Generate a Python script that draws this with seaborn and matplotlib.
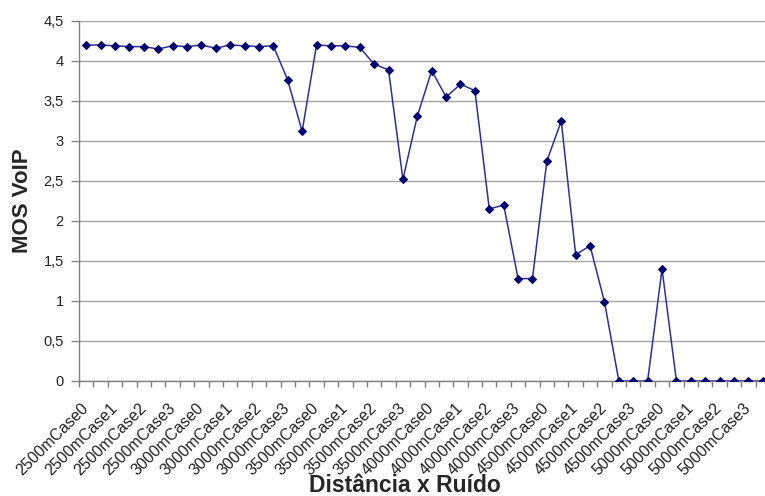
import matplotlib
matplotlib.use("Agg")
import matplotlib.pyplot as plt
import seaborn as sns
import pandas as pd
import numpy as np

tick_labels = ["2500mCase0", "2500mCase1", "2500mCase2", "2500mCase3",
               "3000mCase0", "3000mCase1", "3000mCase2", "3000mCase3",
               "3500mCase0", "3500mCase1", "3500mCase2", "3500mCase3",
               "4000mCase0", "4000mCase1", "4000mCase2", "4000mCase3",
               "4500mCase0", "4500mCase1", "4500mCase2", "4500mCase3",
               "5000mCase0", "5000mCase1", "5000mCase2", "5000mCase3"]

mos = [4.20, 4.20, 4.19, 4.18, 4.18, 4.15, 4.19, 4.18, 4.20, 4.16, 4.20, 4.19,
       4.18, 4.19, 3.76, 3.12, 4.20, 4.19, 4.19, 4.17, 3.96, 3.89, 2.52, 3.31,
       3.88, 3.55, 3.71, 3.63, 2.15, 2.20, 1.28, 1.28, 2.75, 3.25, 1.58, 1.69,
       0.99, 0.0, 0.0, 0.0, 1.40, 0.0, 0.0, 0.0, 0.0, 0.0, 0.0, 0.0]

y_ticks = [0, 0.5, 1, 1.5, 2, 2.5, 3, 3.5, 4, 4.5]
y_tick_labels = ["0", "0,5", "1", "1,5", "2", "2,5", "3", "3,5", "4", "4,5"]

sns.set_theme(style="white")
plt.rcParams["font.family"] = ["Liberation Sans", "DejaVu Sans"]

df = pd.DataFrame({"idx": np.arange(len(mos)), "mos": mos})

W, H = 765, 496
fig = plt.figure(figsize=(W / 100, H / 100), dpi=100)
ax = fig.add_axes([79 / W, 1 - 381 / H, 691 / W, 360 / H])

sns.lineplot(data=df, x="idx", y="mos", ax=ax, color="#2f2f96", linewidth=1.1,
             marker="D", markersize=4, markerfacecolor="#000070",
             markeredgecolor="#000070", zorder=3)

ax.set_xlim(-0.5, len(mos) - 0.5)
ax.set_ylim(0, 4.5)
ax.set_yticks(y_ticks)
ax.set_yticklabels(y_tick_labels, fontsize=10.5, color="#222222")
ax.yaxis.grid(True, color="#a6a6a6", linewidth=1)
ax.set_axisbelow(True)

major = np.arange(0, len(mos), 2)
ax.set_xticks(major)
ax.set_xticklabels(tick_labels, rotation=45, ha="right", va="center",
                   rotation_mode="anchor", fontsize=11.5, color="#222222")
ax.set_xticks(np.arange(-0.5, len(mos), 1), minor=True)
ax.tick_params(axis="x", which="major", length=0, pad=18)
ax.tick_params(axis="x", which="minor", length=4, color="#808080", width=1,
               direction="out", bottom=True)
ax.tick_params(axis="y", length=6, color="#808080", width=1, direction="out",
               left=True, pad=5)

for s in ["top", "right"]:
    ax.spines[s].set_visible(False)
for s in ["left", "bottom"]:
    ax.spines[s].set_color("#808080")
    ax.spines[s].set_linewidth(1)

ax.set_xlabel("Distância x Ruído", fontsize=16.5, fontweight="bold")
ax.set_ylabel("MOS VoIP", fontsize=16, fontweight="bold")
ax.xaxis.set_label_coords((405 - 79) / 691, -(492 - 381) / 360)
ax.xaxis.label.set_va("baseline")
ax.yaxis.set_label_coords(-(79 - 23) / 691, (381 - 201) / 360)
ax.yaxis.label.set_va("center")
ax.yaxis.label.set_ha("center")

fig.savefig("out.png", dpi=100)
